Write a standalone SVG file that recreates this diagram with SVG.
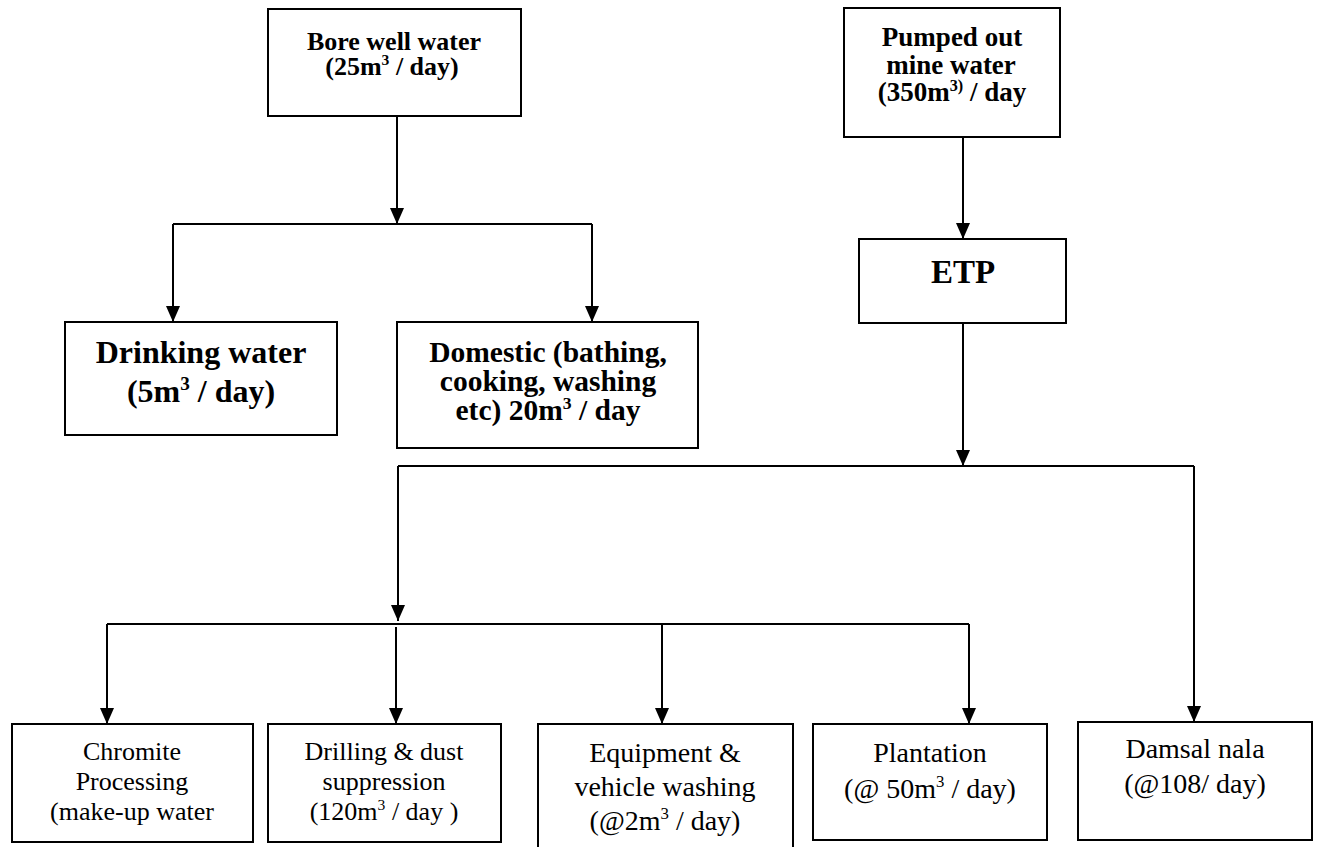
<svg xmlns="http://www.w3.org/2000/svg" width="1319" height="847" viewBox="0 0 1319 847">
<defs>
<marker id="ah" markerUnits="userSpaceOnUse" markerWidth="16" markerHeight="14" viewBox="0 0 16 14" refX="16" refY="7" orient="auto">
<path d="M0,0 L16,7 L0,14 z" fill="#000"/>
</marker>
<style>
.box{fill:#fff;stroke:#000;stroke-width:2}
.ln{fill:none;stroke:#000;stroke-width:2}
.b{font-family:"Liberation Serif","Times New Roman",serif;font-weight:bold;fill:#000;text-anchor:middle}
.r{font-family:"Liberation Serif","Times New Roman",serif;fill:#000;text-anchor:middle}
.sup{font-size:60%}
</style>
</defs>
<rect width="1319" height="847" fill="#fff"/>

<g id="connectors">
<path class="ln" d="M397,116 V224" marker-end="url(#ah)"/>
<path class="ln" d="M173,224 H592"/>
<path class="ln" d="M173,224 V322" marker-end="url(#ah)"/>
<path class="ln" d="M592,224 V322" marker-end="url(#ah)"/>
<path class="ln" d="M963,137 V239" marker-end="url(#ah)"/>
<path class="ln" d="M963,323 V466" marker-end="url(#ah)"/>
<path class="ln" d="M398,466 H1194"/>
<path class="ln" d="M398,466 V621" marker-end="url(#ah)"/>
<path class="ln" d="M107,624 H969"/>
<path class="ln" d="M107,624 V724" marker-end="url(#ah)"/>
<path class="ln" d="M396,627 V724" marker-end="url(#ah)"/>
<path class="ln" d="M662,624 V724" marker-end="url(#ah)"/>
<path class="ln" d="M969,624 V724" marker-end="url(#ah)"/>
<path class="ln" d="M1194,466 V722" marker-end="url(#ah)"/>
</g>

<g id="bore">
<rect class="box" x="268" y="9" width="253" height="107"/>
<text class="b" font-size="26"><tspan x="394" y="50">Bore well water</tspan><tspan x="392" y="75">(25m<tspan class="sup" dy="-10">3</tspan><tspan dy="10"> / day)</tspan></tspan></text>
</g>

<g id="pumped">
<rect class="box" x="844" y="8" width="216" height="129"/>
<text class="b" font-size="27"><tspan x="952" y="46">Pumped out</tspan><tspan x="951" y="74">mine water</tspan><tspan x="952" y="101">(350m<tspan class="sup" dy="-10">3)</tspan><tspan dy="10"> / day</tspan></tspan></text>
</g>

<g id="etp">
<rect class="box" x="859" y="239" width="207" height="84"/>
<text class="b" font-size="33" x="963" y="283">ETP</text>
</g>

<g id="drinking">
<rect class="box" x="65" y="322" width="272" height="113"/>
<text class="b" font-size="32"><tspan x="201" y="363">Drinking water</tspan><tspan x="201" y="402">(5m<tspan class="sup" dy="-12">3</tspan><tspan dy="12"> / day)</tspan></tspan></text>
</g>

<g id="domestic">
<rect class="box" x="397" y="322" width="301" height="126"/>
<text class="b" font-size="29.5"><tspan x="548" y="362">Domestic (bathing,</tspan><tspan x="548" y="391">cooking, washing</tspan><tspan x="548" y="420">etc) 20m<tspan class="sup" dy="-11">3</tspan><tspan dy="11"> / day</tspan></tspan></text>
</g>

<g id="chromite">
<rect class="box" x="12" y="724" width="241" height="118"/>
<text class="r" font-size="26"><tspan x="132" y="760">Chromite</tspan><tspan x="132" y="790">Processing</tspan><tspan x="132" y="820">(make-up water</tspan></text>
</g>

<g id="drilling">
<rect class="box" x="268" y="724" width="233" height="118"/>
<text class="r" font-size="26"><tspan x="384" y="760">Drilling &amp; dust</tspan><tspan x="384" y="790">suppression</tspan><tspan x="384" y="820">(120m<tspan class="sup" dy="-10">3</tspan><tspan dy="10"> / day )</tspan></tspan></text>
</g>

<g id="equipment">
<rect class="box" x="538" y="724" width="255" height="130"/>
<text class="r" font-size="28"><tspan x="665" y="762">Equipment &amp;</tspan><tspan x="665" y="796">vehicle washing</tspan><tspan x="665" y="830">(@2m<tspan class="sup" dy="-11">3</tspan><tspan dy="11"> / day)</tspan></tspan></text>
</g>

<g id="plantation">
<rect class="box" x="813" y="724" width="234" height="116"/>
<text class="r" font-size="28"><tspan x="930" y="762">Plantation</tspan><tspan x="930" y="798">(@ 50m<tspan class="sup" dy="-11">3</tspan><tspan dy="11"> / day)</tspan></tspan></text>
</g>

<g id="damsal">
<rect class="box" x="1078" y="722" width="234" height="118"/>
<text class="r" font-size="28"><tspan x="1195" y="758">Damsal nala</tspan><tspan x="1195" y="793">(@108/ day)</tspan></text>
</g>
</svg>
